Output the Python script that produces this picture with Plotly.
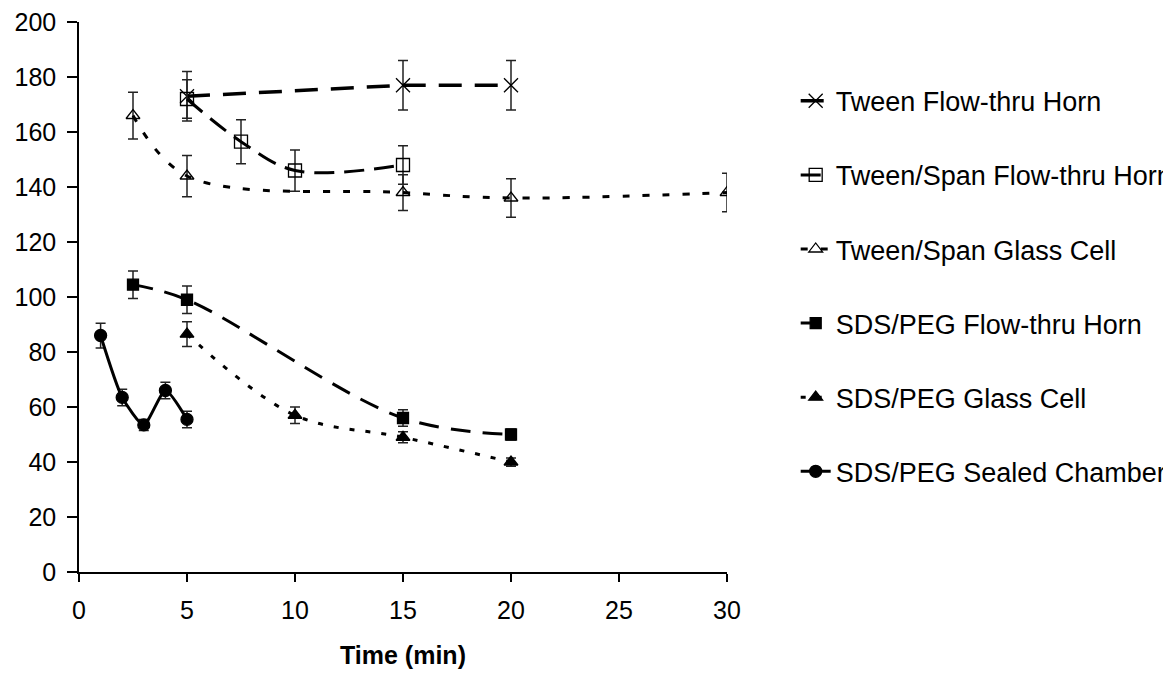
import plotly.graph_objects as go

# ---- data ----
tween_flow_x = [5, 15, 20]
tween_flow_y = [173, 177, 177]
tween_flow_err = [9, 9, 9]

ts_flow_x = [5, 7.5, 10, 15]
ts_flow_y = [172, 156.5, 146, 148]
ts_flow_err = [7, 8, 7.5, 7]

ts_glass_x = [2.5, 5, 15, 20, 30]
ts_glass_y = [166, 144, 138, 136, 138]
ts_glass_err = [8.5, 7.5, 6.5, 7, 7]

sds_flow_x = [2.5, 5, 15, 20]
sds_flow_y = [104.5, 99, 56, 50]
sds_flow_err = [5, 5, 3, 2]

sds_glass_x = [5, 10, 15, 20]
sds_glass_y = [86.5, 57, 49, 40]
sds_glass_err = [4.5, 3, 2, 1.5]

sds_sealed_x = [1, 2, 3, 4, 5]
sds_sealed_y = [86, 63.5, 53.5, 66, 55.5]
sds_sealed_err = [4.5, 3, 2, 3, 3]

names = ["Tween Flow-thru Horn", "Tween/Span Flow-thru Horn", "Tween/Span Glass Cell",
         "SDS/PEG Flow-thru Horn", "SDS/PEG Glass Cell", "SDS/PEG Sealed Chamber"]

x_ticks = [0, 5, 10, 15, 20, 25, 30]
y_ticks = list(range(0, 201, 20))

FONT = "Arial, 'Liberation Sans', sans-serif"

series = [
    (tween_flow_x, tween_flow_y, tween_flow_err, "x-thin-open", 14, "23px,13px", 3.5, "linear", 1),
    (ts_flow_x, ts_flow_y, ts_flow_err, "square-open", 13, "20px,10px", 3, "spline", 1),
    (ts_glass_x, ts_glass_y, ts_glass_err, "triangle-up-open", 12, "7px,13px", 3, "spline", 1),
    (sds_flow_x, sds_flow_y, sds_flow_err, "square", 11, "20px,12px", 3, "spline", 1),
    (sds_glass_x, sds_glass_y, sds_glass_err, "triangle-up", 12, "5px,11px", 3, "spline", 1),
    (sds_sealed_x, sds_sealed_y, sds_sealed_err, "circle", 12, "solid", 3, "spline", 0.6),
]

fig = go.Figure()
for i, (xs, ys, es, sym, sz, dash, lw, shape, sm) in enumerate(series):
    fig.add_trace(go.Scatter(
        x=xs, y=ys, name=names[i], legendgroup=f"g{i}",
        mode="lines+markers",
        line=dict(color="black", width=lw, dash=dash, shape=shape, smoothing=sm),
        marker=dict(symbol=sym, size=sz, color="black",
                    line=dict(color="black", width=1.3)),
        error_y=dict(type="data", array=es, visible=True, color="#222222",
                     thickness=1.5, width=5),
    ))

fig.update_layout(
    width=1163, height=669,
    paper_bgcolor="white", plot_bgcolor="white",
    margin=dict(l=71, r=444, t=14, b=105, autoexpand=False),
    font=dict(family=FONT, color="black", size=25),
    showlegend=True,
    legend=dict(x=1.106, y=0.9005, xanchor="left", yanchor="top",
                font=dict(family=FONT, size=27, color="black"),
                bgcolor="rgba(0,0,0,0)", tracegroupgap=36, itemwidth=30),
    xaxis=dict(range=[0, 30], tickvals=x_ticks, ticktext=[str(v) for v in x_ticks],
               showline=True, linecolor="black", linewidth=1.5,
               ticks="outside", ticklen=8, tickwidth=1.5, tickcolor="black",
               showgrid=False, zeroline=False, ticklabelstandoff=7,
               ticklabeloverflow="allow",
               tickfont=dict(size=25),
               title=dict(text="<b>Time (min)</b>", font=dict(size=25), standoff=24)),
    yaxis=dict(range=[0, 200], tickvals=y_ticks, ticktext=[str(v) for v in y_ticks],
               showline=True, linecolor="black", linewidth=1.5,
               ticks="outside", ticklen=10, tickwidth=1.5, tickcolor="black",
               showgrid=False, zeroline=False, ticklabelstandoff=6,
               ticklabeloverflow="allow",
               tickfont=dict(size=25)),
)

fig.write_html("out.html")
